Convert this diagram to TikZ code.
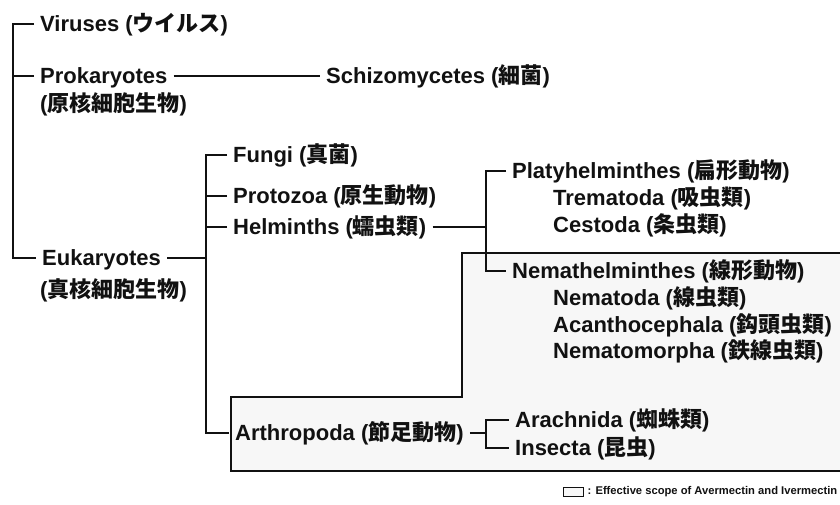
\documentclass[tikz,border=0pt]{standalone}
\usepackage{fontspec}
\setmainfont{Liberation Sans}
\newfontfamily\jpfont{Noto Sans CJK JP Bold}
\usetikzlibrary{positioning}
\definecolor{inkC}{HTML}{111111}
\definecolor{scopeC}{HTML}{F7F7F7}

\newcommand{\jt}[1]{{\jpfont #1}}

\begin{document}
\begin{tikzpicture}[
  x=1pt,
  y=-1pt,
  line join=miter,
  taxon/.style={anchor=west, inner xsep=6pt, inner ysep=0pt, text height=15.7pt, text depth=0pt,
    font=\fontsize{22}{26}\selectfont\bfseries, text=inkC},
  branch/.style={draw=inkC, line width=1.6pt},
  spine/.style={draw=inkC, line width=2.2pt},
  legkey/.style={draw=inkC, fill=scopeC, line width=0.9pt, minimum width=20pt, minimum height=9pt, inner sep=0pt},
  legend/.style={anchor=west, inner sep=0pt, font=\fontsize{11.2}{13}\selectfont\bfseries, text=inkC}
]

\useasboundingbox (0,0) rectangle (840,504);

% Effective scope region
\fill[scopeC] (840,253) -- (462,253) -- (462,397) -- (231,397) -- (231,471) -- (840,471) -- cycle;
\draw[inkC, line width=1.8pt] (840,253) -- (462,253) -- (462,397) -- (231,397) -- (231,471) -- (840,471);

% Taxa
\node[taxon] (vir) at (34,24) {Viruses (\jt{ウイルス})};
\node[taxon] (pro) at (34,76) {Prokaryotes};
\node[taxon] (proJ) at (34,104) {(\jt{原核細胞生物})};
\node[taxon] (schizo) at (320,76) {Schizomycetes (\jt{細菌})};
\node[taxon] (eu) at (36,258) {Eukaryotes};
\node[taxon] (euJ) at (34,290) {(\jt{真核細胞生物})};

\node[taxon] (fungi) at (227,155) {Fungi (\jt{真菌})};
\node[taxon] (proto) at (227,196) {Protozoa (\jt{原生動物})};
\node[taxon] (helm) at (227,227) {Helminths (\jt{蠕虫類})};
\node[taxon] (arth) at (229,433) {Arthropoda (\jt{節足動物})};

\node[taxon] (platy) at (506,171) {Platyhelminthes (\jt{扁形動物})};
\node[taxon] (trem) at (547,198) {Trematoda (\jt{吸虫類})};
\node[taxon] (cest) at (547,225) {Cestoda (\jt{条虫類})};
\node[taxon] (nemat) at (506,271) {Nemathelminthes (\jt{線形動物})};
\node[taxon] (nema) at (547,298) {Nematoda (\jt{線虫類})};
\node[taxon] (acan) at (547,325) {Acanthocephala (\jt{鈎頭虫類})};
\node[taxon] (nmorph) at (547,351) {Nematomorpha (\jt{鉄線虫類})};

\node[taxon] (arach) at (509,420) {Arachnida (\jt{蜘蛛類})};
\node[taxon] (insect) at (509,448) {Insecta (\jt{昆虫})};

% Spines
\coordinate (rootS) at (13,0);
\coordinate (euS) at (206,0);
\coordinate (helS) at (486,0);
\coordinate (artS) at (486,0);

\draw[spine] (vir.west) -- (vir.west -| rootS) -- (eu.west -| rootS) -- (eu.west);
\draw[branch] (pro.west) -- (pro.west -| rootS);
\draw[branch] (pro.east) -- (schizo.west);

\draw[spine] (fungi.west) -- (fungi.west -| euS) -- (arth.west -| euS) -- (arth.west);
\draw[branch] (eu.east) -- (eu.east -| euS);
\draw[branch] (proto.west) -- (proto.west -| euS);
\draw[branch] (helm.west) -- (helm.west -| euS);

\draw[branch] (platy.west) -- (platy.west -| helS) -- (nemat.west -| helS) -- (nemat.west);
\draw[branch] (helm.east) -- (helm.east -| helS);

\draw[branch] (arach.west) -- (arach.west -| artS) -- (insect.west -| artS) -- (insect.west);
\draw[branch] (arth.east) -- (arth.east -| artS);

% Legend
\node[legkey] (key) at (573,492) {};
\node[legend, right=4pt of key] (legtxt) {: Effective scope of Avermectin and Ivermectin};

\end{tikzpicture}
\end{document}
